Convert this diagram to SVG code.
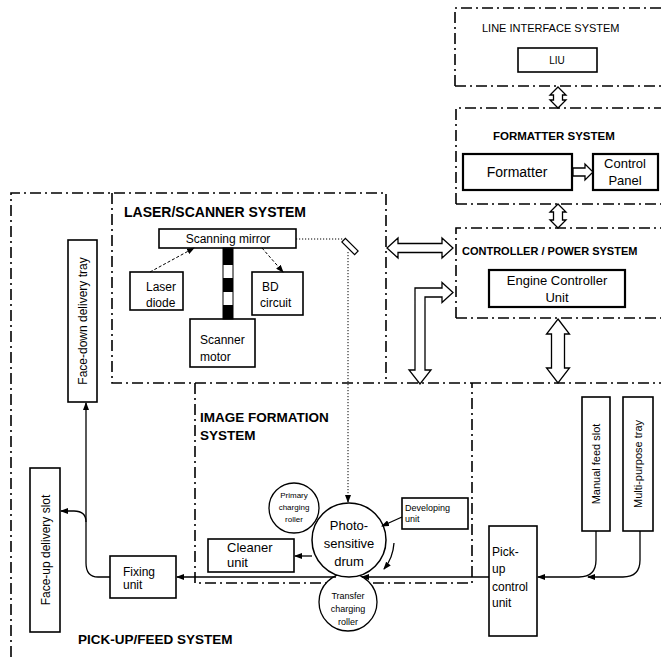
<svg xmlns="http://www.w3.org/2000/svg" width="661" height="657" viewBox="0 0 661 657">
<style>
text{font-family:"Liberation Sans",Arial,sans-serif;fill:#000}
.sys{fill:none;stroke:#000;stroke-width:1.6;stroke-dasharray:11,4,2,4}
.box{fill:#fff;stroke:#000;stroke-width:1.6}
.thick{fill:#fff;stroke:#000;stroke-width:2.2}
.hol{fill:#fff;stroke:#000;stroke-width:1.3;stroke-linejoin:miter}
.ln{fill:none;stroke:#000;stroke-width:1.3}
.dash{fill:none;stroke:#000;stroke-width:1;stroke-dasharray:3,2}
.dot{fill:none;stroke:#000;stroke-width:1;stroke-dasharray:1.2,1.8}
.t{font-weight:bold}
.c{text-anchor:middle}
</style>
<defs>
<marker id="ah" markerWidth="8" markerHeight="6" refX="7" refY="3" orient="auto" markerUnits="userSpaceOnUse">
<path d="M0,0 L8,3 L0,6 Z" fill="#000"/>
</marker>
</defs>
<rect width="661" height="657" fill="#fff"/>

<g id="systems">
<path class="sys" d="M455,86 V8 H670 M455,86 H670"/>
<path class="sys" d="M456,204 V108 H670 M456,204 H670"/>
<path class="sys" d="M456,318 V228 H670 M456,318 H670"/>
<path class="sys" d="M11,657 V193 H386 V383 H670"/>
<path class="sys" d="M112,193 V383 H386"/>
<path class="sys" d="M195,383 V583 H472 V383"/>
<text x="482" y="32" font-size="11">LINE INTERFACE SYSTEM</text>
<text class="t" x="493" y="140" font-size="11.5">FORMATTER SYSTEM</text>
<text class="t" x="462" y="255" font-size="11">CONTROLLER / POWER SYSTEM</text>
<text class="t" x="124" y="217" font-size="14">LASER/SCANNER SYSTEM</text>
<text class="t" x="200" y="422" font-size="13.5">IMAGE FORMATION</text>
<text class="t" x="200" y="440" font-size="13.5">SYSTEM</text>
<text class="t" x="78" y="644" font-size="13.5">PICK-UP/FEED SYSTEM</text>
</g>

<g id="liu"><rect class="box" x="518" y="48" width="79" height="24" stroke-width="1.2"/><text class="c" x="557" y="64" font-size="10">LIU</text></g>
<g id="formatter"><rect class="thick" x="463" y="154" width="109" height="36"/><text class="c" x="517" y="177" font-size="14">Formatter</text></g>
<g id="control-panel"><rect class="thick" x="593" y="154" width="65" height="36"/><text class="c" x="625" y="168" font-size="13">Control</text><text class="c" x="625" y="185" font-size="13">Panel</text></g>
<g id="engine-controller"><rect class="thick" x="489" y="270" width="136" height="37"/><text class="c" x="557" y="285" font-size="13">Engine Controller</text><text class="c" x="557" y="302" font-size="13">Unit</text></g>

<g id="scanning-mirror"><rect class="box" x="159" y="229" width="137" height="19"/><text class="c" x="228" y="243" font-size="12">Scanning mirror</text></g>
<g id="laser-diode"><rect class="box" x="130" y="272" width="53" height="38"/><text x="146" y="291" font-size="12">Laser</text><text x="146" y="307" font-size="12">diode</text></g>
<g id="bd-circuit"><rect class="box" x="252" y="272" width="51" height="43"/><text x="262" y="291" font-size="12">BD</text><text x="260" y="307" font-size="12">circuit</text></g>
<g id="scanner-motor"><rect class="box" x="190" y="319" width="65" height="48"/><text x="200" y="344" font-size="12">Scanner</text><text x="200" y="361" font-size="12">motor</text></g>
<g id="shaft">
<rect x="223" y="248" width="10" height="71" fill="#fff" stroke="#000" stroke-width="1"/>
<rect x="223" y="248" width="10" height="17" fill="#000"/>
<rect x="223" y="278" width="10" height="14" fill="#000"/>
<rect x="223" y="305" width="10" height="14" fill="#000"/>
</g>
<g id="mirror"><rect x="341" y="244" width="18" height="5" fill="#fff" stroke="#000" stroke-width="1.2" transform="rotate(45 350 246.5)"/></g>

<g id="face-down-tray"><rect class="box" x="68" y="240" width="29" height="162"/><text class="c" font-size="12" transform="translate(86.5 321) rotate(-90)">Face-down delivery tray</text></g>
<g id="face-up-slot"><rect class="box" x="30" y="468" width="30" height="164"/><text class="c" font-size="12" transform="translate(49.5 550) rotate(-90)">Face-up delivery slot</text></g>
<g id="fixing-unit"><rect class="box" x="110" y="556" width="66" height="42"/><text x="123" y="576" font-size="12">Fixing</text><text x="123" y="589" font-size="12">unit</text></g>
<g id="cleaner-unit"><rect class="box" x="208" y="539" width="86" height="33"/><text x="227" y="552" font-size="13">Cleaner</text><text x="227" y="567" font-size="13">unit</text></g>
<g id="transfer-roller"><circle cx="348" cy="602" r="29" fill="#fff" stroke="#000" stroke-width="1.3"/><text class="c" x="348" y="599" font-size="9">Transfer</text><text class="c" x="348" y="612" font-size="9">charging</text><text class="c" x="348" y="625" font-size="9">roller</text></g>
<g id="drum"><circle cx="349" cy="540" r="37" fill="#fff" stroke="#000" stroke-width="1.5"/><text class="c" x="349" y="530" font-size="13">Photo-</text><text class="c" x="349" y="548" font-size="13">sensitive</text><text class="c" x="349" y="566" font-size="13">drum</text></g>
<g id="primary-roller"><circle cx="294" cy="508" r="25" fill="#fff" stroke="#000" stroke-width="1.3"/><text class="c" x="294" y="498" font-size="8">Primary</text><text class="c" x="294" y="510" font-size="8">charging</text><text class="c" x="294" y="522" font-size="8">roller</text></g>
<g id="developing-unit"><rect class="box" x="402" y="498" width="66" height="31"/><text x="405" y="511" font-size="9">Developing</text><text x="405" y="522" font-size="9">unit</text></g>
<g id="pickup-control"><rect class="box" x="489" y="526" width="48" height="110"/><text x="492" y="556" font-size="12">Pick-</text><text x="492" y="573" font-size="12">up</text><text x="492" y="591" font-size="12">control</text><text x="492" y="607" font-size="12">unit</text></g>
<g id="manual-feed"><rect class="box" x="582" y="397" width="28" height="134"/><text class="c" font-size="11" transform="translate(600 464) rotate(-90)">Manual feed slot</text></g>
<g id="multi-purpose"><rect class="box" x="623" y="397" width="30" height="134"/><text class="c" font-size="11" transform="translate(642 464) rotate(-90)">Multi-purpose tray</text></g>

<g id="connectors">
<polygon class="hol" points="558,87 566,95 562.5,95 562.5,100 566,100 558,108 550,100 553.5,100 553.5,95 550,95"/>
<polygon class="hol" points="558,204 566,212 562.5,212 562.5,220 566,220 558,228 550,220 553.5,220 553.5,212 550,212"/>
<polygon class="hol" points="558,319 569.5,334 564.5,334 564.5,368 569.5,368 558,383 546.5,368 551.5,368 551.5,334 546.5,334"/>
<polygon class="hol" points="387,248 398,238 398,243.5 442,243.5 442,238 453,248 442,258 442,252.5 398,252.5 398,258"/>
<polygon class="hol" points="573,168 585,168 585,164 593,172 585,180 585,176 573,176"/>
<polygon class="hol" points="415,288 442,288 442,282.5 453,292.5 442,302.5 442,297 425,297 425,370 431,370 420,384 409,370 415,370"/>
<path class="dash" d="M150,272 L194,248" marker-end="url(#ah)"/>
<path class="dash" d="M262,248 L283,272" marker-end="url(#ah)"/>
<path class="dot" d="M296,239 H343"/>
<path class="dot" d="M348,252 V502" marker-end="url(#ah)"/>
<path class="ln" d="M402,517 L382,526" marker-end="url(#ah)"/>
<path class="ln" d="M312,556 H295" marker-end="url(#ah)"/>
<path class="ln" d="M394,543 Q393,558 384,569" marker-end="url(#ah)"/>
<path class="ln" d="M489,577 H362" marker-end="url(#ah)"/>
<path class="ln" d="M336,577 H177" marker-end="url(#ah)"/>
<path class="ln" d="M110,577 H98 Q86,577 86,563 V403" marker-end="url(#ah)"/>
<path class="ln" d="M86,522 Q86,511 74,511 H61" marker-end="url(#ah)"/>
<path class="ln" d="M596,531 V560 Q596,577 579,577 H538" marker-end="url(#ah)"/>
<path class="ln" d="M640,531 V560 Q640,577 623,577 H588" marker-end="url(#ah)"/>
</g>
</svg>
